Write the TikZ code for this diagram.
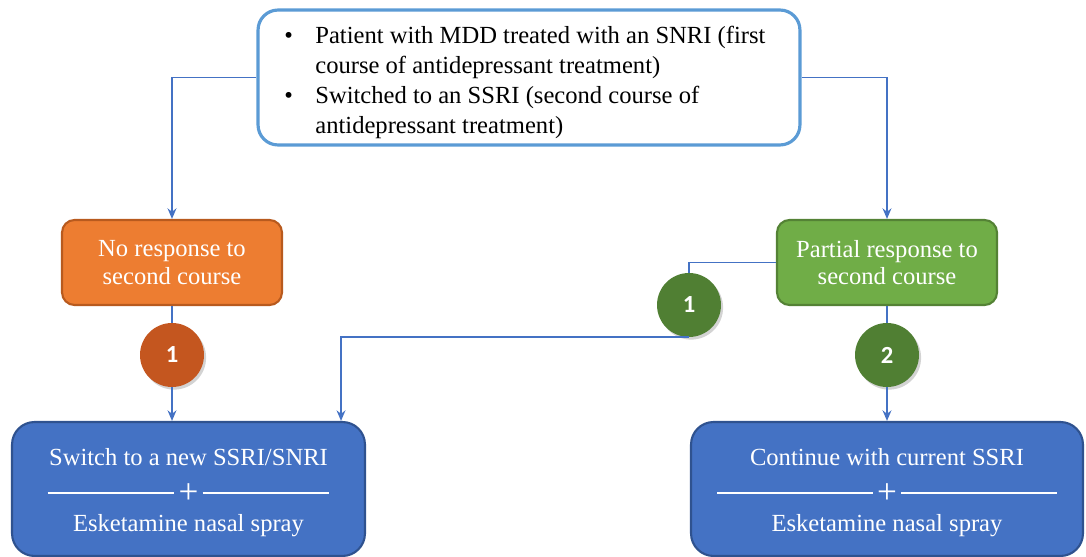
\documentclass[tikz,border=0pt]{standalone}
\usepackage{fontspec}
\setmainfont{Liberation Serif}
\newfontfamily\numfont{Carlito}
\usepackage{tikz}
\usetikzlibrary{positioning, calc, arrows.meta, shadows}

\definecolor{topblue}{HTML}{5B9BD5}
\definecolor{linkblue}{HTML}{4472C4}
\definecolor{boxblue}{HTML}{4472C4}
\definecolor{boxblueline}{HTML}{2F528F}
\definecolor{orangefill}{HTML}{ED7D31}
\definecolor{orangeline}{HTML}{B85A1E}
\definecolor{orangedot}{HTML}{C4561F}
\definecolor{greenfill}{HTML}{70AD47}
\definecolor{greenline}{HTML}{548235}
\definecolor{greendot}{HTML}{507F33}

\newcommand{\plusrule}[1]{\rule[0.3em]{#1}{0.8pt}\,\raisebox{-0.1em}{\fontsize{20}{20}\selectfont +}\,\rule[0.3em]{#1}{0.8pt}}
% three lines of a treatment box, set a little lower than centre
\newcommand{\treattext}[2]{\raisebox{-1.8pt}[\height][\depth]{%
    \begin{tabular}{@{}c@{}}#1\\[3.4pt] \plusrule{#2}\\[0.2pt] Esketamine nasal spray\end{tabular}}}

\tikzset{
    line/.style={draw=linkblue, line width=1.1pt},
    link/.style={line, -{Stealth[length=6pt, width=5pt]}},
    startbox/.style={draw=topblue, line width=1.8pt, fill=white, rounded corners=0.4cm,
        minimum width=10.84cm, minimum height=2.7cm, align=left,
        font=\fontsize{14}{17.2}\selectfont},
    resbox/.style={line width=1.2pt, rounded corners=0.25cm, text=white, align=center,
        minimum width=4.4cm, minimum height=1.7cm, font=\fontsize{14}{15.5}\selectfont},
    treatbox/.style={draw=boxblueline, fill=boxblue, line width=1.2pt, rounded corners=0.45cm,
        text=white, align=center, minimum height=2.68cm, font=\fontsize{14}{17}\selectfont},
    numdot/.style={circle, minimum size=1.28cm, inner sep=0pt, text=white,
        font=\numfont\bfseries\fontsize{14}{14}\selectfont,
        drop shadow={opacity=0.35, shadow xshift=1.2pt, shadow yshift=-1.5pt}}
}

\begin{document}
\begin{tikzpicture}[x=0.02cm, y=-0.02cm]
    \useasboundingbox (0,0) rectangle (1086,557);

    % patient box
    \node[startbox] (start) at (529,77.5) {%
        \raisebox{-2.9pt}[\height][\depth]{\begin{tabular}{@{}p{0.62cm}@{}l@{}}
        \textbullet & Patient with MDD treated with an SNRI (first\\
                    & course of antidepressant treatment)\\
        \textbullet & Switched to an SSRI (second course of\\
                    & antidepressant treatment)
        \end{tabular}}\hspace*{4.6pt}};

    % response after the second course
    \node[resbox, draw=orangeline, fill=orangefill] (nores) at (172,262.5) {No response to\\second course};
    \node[resbox, draw=greenline, fill=greenfill] (partial) at (887,262.5) {Partial response to\\second course};

    % numbered options
    \node[numdot, fill=orangedot] (orange1) at (172,355) {1};
    \node[numdot, fill=greendot] (green1) at (689,305) {1};
    \node[numdot, fill=greendot] (green2) at (887,355) {2};

    % treatment boxes
    \node[treatbox, minimum width=7.06cm] (switch) at (188.5,489)
        {\treattext{Switch to a new SSRI/SNRI}{2.54cm}};
    \node[treatbox, minimum width=7.84cm] (cont) at (887,489)
        {\treattext{Continue with current SSRI}{3.12cm}};
    \coordinate (switchin) at ($(switch.north east)+(-25,0)$);

    % connectors
    \draw[link] (start.west) -| (nores.north);
    \draw[link] (start.east) -| (partial.north);
    \draw[line] (nores.south) -- (orange1.north);
    \draw[link] (orange1.south) -- (orange1.south |- switch.north);
    \draw[line] (partial.west) -| (green1.north);
    \draw[link] (green1.south) -| (switchin);
    \draw[line] (partial.south) -- (green2.north);
    \draw[link] (green2.south) -- (cont.north);
\end{tikzpicture}
\end{document}
